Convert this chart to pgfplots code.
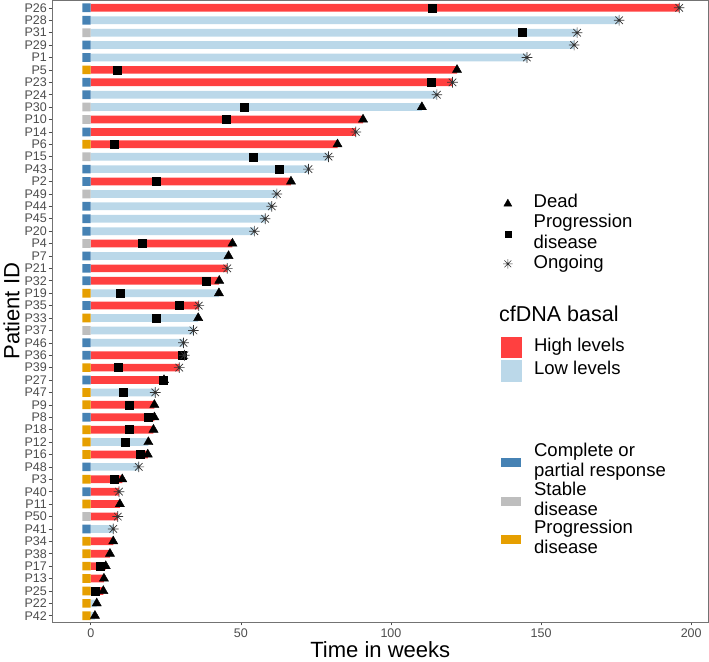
\documentclass[border=0pt]{standalone}
\usepackage{pgfplots}
\pgfplotsset{compat=1.18}
\usepackage{fontspec}
\setmainfont{Liberation Sans}

\definecolor{hiC}{HTML}{FF4040}
\definecolor{loC}{HTML}{BBD8E9}
\definecolor{crC}{HTML}{4682B4}
\definecolor{sdC}{HTML}{BEBEBE}
\definecolor{pdC}{HTML}{E69F00}
\definecolor{axC}{HTML}{4D4D4D}

% ggplot-like asterisk: plus and cross together
\pgfdeclareplotmark{ast8}{%
  \pgfpathmoveto{\pgfqpoint{-\pgfplotmarksize}{0pt}}\pgfpathlineto{\pgfqpoint{\pgfplotmarksize}{0pt}}%
  \pgfpathmoveto{\pgfqpoint{0pt}{-\pgfplotmarksize}}\pgfpathlineto{\pgfqpoint{0pt}{\pgfplotmarksize}}%
  \pgfpathmoveto{\pgfqpoint{-0.707\pgfplotmarksize}{-0.707\pgfplotmarksize}}\pgfpathlineto{\pgfqpoint{0.707\pgfplotmarksize}{0.707\pgfplotmarksize}}%
  \pgfpathmoveto{\pgfqpoint{-0.707\pgfplotmarksize}{0.707\pgfplotmarksize}}\pgfpathlineto{\pgfqpoint{0.707\pgfplotmarksize}{-0.707\pgfplotmarksize}}%
  \pgfusepathqstroke}

\pgfplotsset{
  legbox/.style={scale only axis, width=656pt, height=621pt, hide axis,
    xmin=0, xmax=1, ymin=0, ymax=1, legend cell align=left,
    legend style={draw=none, fill=none, inner sep=0pt, anchor=north west,
      cells={align=left}, nodes={inner sep=0pt, text depth={}}}},
}

\begin{document}
\begin{tikzpicture}
\begin{axis}[
    scale only axis, width=656pt, height=621pt,
    xmin=-12.9, xmax=205.8, ymin=0.4, ymax=50.5, y dir=reverse,
    xtick={0,50,100,150,200},
    ytick={1,...,50},
    yticklabels={P26,P28,P31,P29,P1,P5,P23,P24,P30,P10,P14,P6,P15,P43,P2,P49,P44,P45,P20,P4,
                 P7,P21,P32,P19,P35,P33,P37,P46,P36,P39,P27,P47,P9,P8,P18,P12,P16,P48,P3,P40,
                 P11,P50,P41,P34,P38,P17,P13,P25,P22,P42},
    tick align=outside, tick pos=left, major tick length=3.5pt,
    tick style={axC, line width=0.6pt},
    axis line style={black!55, line width=0.8pt},
    ticklabel style={font=\fontsize{12.5}{14}\selectfont, text=axC},
    yticklabel style={inner xsep=1.5pt},
    /pgf/number format/assume math mode=true,
    xlabel={Time in weeks}, ylabel={Patient ID},
    label style={font=\fontsize{22}{26}\selectfont},
    xlabel style={yshift=3pt},
]

% cfDNA basal: high levels
\addplot[xbar, bar width=7.7pt, bar shift=0pt, fill=hiC, draw=none] coordinates {
    (196,1) (122,6) (120.5,7) (90.7,10) (88.3,11) (82.2,12) (66.7,15) (47.2,20)
    (45.5,22) (42.8,23) (36,25) (31.2,29) (29.5,30) (24.4,31) (21.2,33) (21.2,34)
    (20.9,35) (19,37) (10.5,39) (9.4,40) (9.7,41) (9,42) (7.5,44) (6.4,45)
    (5,46) (4.4,47) (4.2,48)
};
% cfDNA basal: low levels
\addplot[xbar, bar width=7.7pt, bar shift=0pt, fill=loC, draw=none] coordinates {
    (176,2) (162,3) (161,4) (145.3,5) (115.3,8) (110.3,9) (79.2,13) (72.5,14)
    (62,16) (60.3,17) (58.1,18) (54.5,19) (45.9,21) (42.7,24) (35.8,26) (34.2,27)
    (30.9,28) (21.5,32) (19.2,36) (16,38) (7.5,43) (2,49) (1.4,50)
};

% best response
\addplot[xbar, bar width=8.7pt, bar shift=0pt, fill=crC, draw=none] coordinates {
    (-2.8,1) (-2.8,2) (-2.8,4) (-2.8,5) (-2.8,7) (-2.8,8) (-2.8,11) (-2.8,14)
    (-2.8,15) (-2.8,17) (-2.8,18) (-2.8,19) (-2.8,21) (-2.8,22) (-2.8,23) (-2.8,25)
    (-2.8,28) (-2.8,29) (-2.8,31) (-2.8,34) (-2.8,38) (-2.8,40) (-2.8,43)
};
\addplot[xbar, bar width=8.7pt, bar shift=0pt, fill=sdC, draw=none] coordinates {
    (-2.8,3) (-2.8,9) (-2.8,10) (-2.8,13) (-2.8,16) (-2.8,20) (-2.8,27) (-2.8,42)
};
\addplot[xbar, bar width=8.7pt, bar shift=0pt, fill=pdC, draw=none] coordinates {
    (-2.8,6) (-2.8,12) (-2.8,24) (-2.8,26) (-2.8,30) (-2.8,32) (-2.8,33) (-2.8,35)
    (-2.8,36) (-2.8,37) (-2.8,39) (-2.8,41) (-2.8,44) (-2.8,45) (-2.8,46) (-2.8,47)
    (-2.8,48) (-2.8,49) (-2.8,50)
};

% progression disease
\addplot[only marks, mark=square*, mark size=4pt, black] coordinates {
    (113.9,1) (143.7,3) (8.9,6) (113.3,7) (51,9) (45,10) (7.9,12) (54.2,13)
    (62.7,14) (21.8,15) (17.3,20) (38.3,23) (9.8,24) (29.4,25) (21.8,26) (30.3,29)
    (9,30) (24,31) (10.7,32) (12.9,33) (19.3,34) (12.9,35) (11.4,36) (16.4,37)
    (7.9,39) (3.1,46) (1.4,48)
};
% dead
\addplot[only marks, mark=triangle*, mark size=5.3pt, black] coordinates {
    (122,6) (110.3,9) (90.7,10) (82.2,12) (66.7,15) (47.2,20) (45.9,21) (42.8,23)
    (42.7,24) (35.8,26) (24.4,31) (21.2,33) (21.2,34) (20.9,35) (19.2,36) (19,37)
    (10.5,39) (9.7,41) (7.5,44) (6.4,45) (5,46) (4.4,47) (4.2,48) (2,49) (1.4,50)
};
% ongoing
\addplot[only marks, mark=ast8, mark size=5.3pt, black!80, line width=0.7pt] coordinates {
    (196,1) (176,2) (162,3) (161,4) (145.3,5) (120.5,7) (115.3,8) (88.3,11)
    (79.2,13) (72.5,14) (62,16) (60.3,17) (58.1,18) (54.5,19) (45.5,22) (36,25)
    (34.2,27) (30.9,28) (31.2,29) (29.5,30) (21.5,32) (16,38) (9.4,40) (9,42) (7.5,43)
};
\end{axis}

% legend: events
\begin{axis}[legbox, legend style={at={(0.6866,0.690)},
    font=\fontsize{18.5}{21}\selectfont, row sep=-1.5pt,
    /tikz/every odd column/.append style={column sep=21pt}}]
\addlegendimage{only marks, mark=triangle*, mark size=4.6pt, black}
\addlegendentry{\strut Dead}
\addlegendimage{only marks, mark=square*, mark size=3pt, black}
\addlegendentry{\strut Progression\\\strut disease}
\addlegendimage{only marks, mark=ast8, mark size=4.8pt, black!80, line width=0.6pt}
\addlegendentry{\strut Ongoing}
\end{axis}

% legend: cfDNA basal
\begin{axis}[legbox, legend style={at={(0.683,0.5105)},
    font=\fontsize{18.5}{21}\selectfont, row sep=2pt,
    /tikz/every odd column/.append style={column sep=13pt}}]
\addlegendimage{empty legend}
\addlegendentry{\hspace*{-35pt}{\fontsize{21.5}{24}\selectfont\strut cfDNA basal\rule[-13.5pt]{0pt}{13.5pt}}}
\addlegendimage{legend image code/.code={\fill[hiC] (0pt,-10pt) rectangle (20pt,10pt);}}
\addlegendentry{\strut High levels}
\addlegendimage{legend image code/.code={\fill[loC] (0pt,-10pt) rectangle (20pt,10pt);}}
\addlegendentry{\strut Low levels}
\end{axis}

% legend: best response
\begin{axis}[legbox, legend style={at={(0.683,0.289)},
    font=\fontsize{18.5}{20}\selectfont, row sep=-1.5pt,
    /tikz/every odd column/.append style={column sep=14pt}}]
\addlegendimage{legend image code/.code={\fill[crC] (0pt,-4pt) rectangle (19pt,4pt);}}
\addlegendentry{\strut Complete or\\\strut partial response}
\addlegendimage{legend image code/.code={\fill[sdC] (0pt,-4pt) rectangle (19pt,4pt);}}
\addlegendentry{\strut Stable\\\strut disease}
\addlegendimage{legend image code/.code={\fill[pdC] (0pt,-4pt) rectangle (19pt,4pt);}}
\addlegendentry{\strut Progression\\\strut disease}
\end{axis}
\end{tikzpicture}
\end{document}
